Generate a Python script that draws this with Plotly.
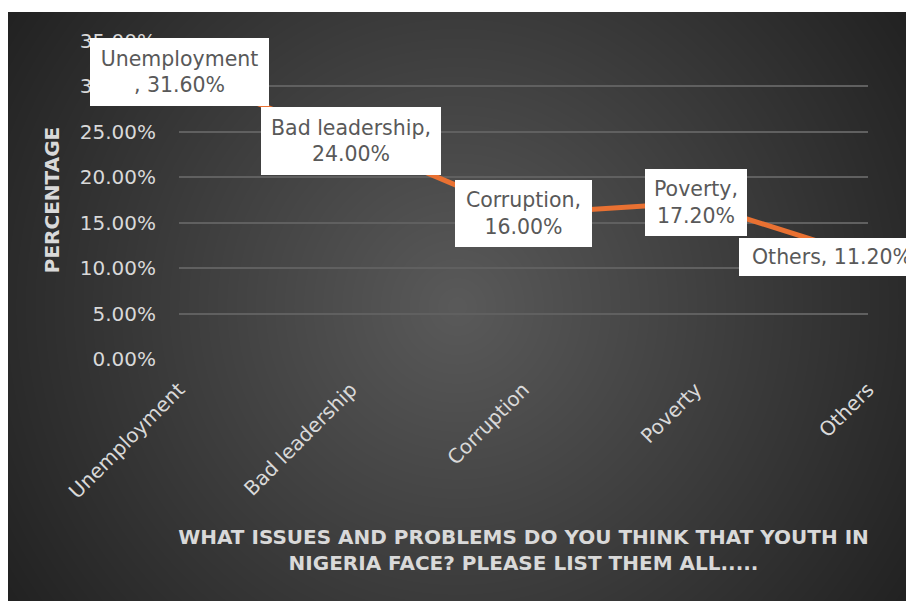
import base64
import struct
import zlib

import numpy as np
import plotly.graph_objects as go

# Survey responses: share of respondents naming each issue
categories = ["Unemployment", "Bad leadership", "Corruption", "Poverty", "Others"]
shares = [0.316, 0.24, 0.16, 0.172, 0.112]
y_ticks = [0, 0.05, 0.10, 0.15, 0.20, 0.25, 0.30, 0.35]

# Data-label text (the first one wraps before its comma)
label_texts = [
    "Unemployment<br>, {:.2%}".format(shares[0]),
    "Bad leadership,<br>{:.2%}".format(shares[1]),
    "Corruption,<br>{:.2%}".format(shares[2]),
    "Poverty,<br>{:.2%}".format(shares[3]),
    "Others, {:.2%}".format(shares[4]),
]

FIG_W, FIG_H = 906, 601
M_L, M_R, M_T, M_B = 179, 38, 41, 242
PLOT_W = FIG_W - M_L - M_R
PLOT_H = FIG_H - M_T - M_B

# Chart-area panel (dark radial gradient) placed inside a thin white frame
PANEL_X0, PANEL_Y0 = 8, 12
PW, PH = FIG_W - PANEL_X0, FIG_H - PANEL_Y0


def radial_png(w, h, inner=0x5a, outer=0x22):
    yy, xx = np.mgrid[0:h, 0:w].astype(float)
    cx, cy = w / 2.0, h / 2.0
    r = np.sqrt((xx - cx) ** 2 + (yy - cy) ** 2) / np.sqrt(cx ** 2 + cy ** 2)
    vals = np.clip(inner + (outer - inner) * r, 0, 255).astype(np.uint8)
    raw = b"".join(b"\x00" + vals[i].tobytes() for i in range(h))

    def chunk(tag, data):
        return (struct.pack(">I", len(data)) + tag + data
                + struct.pack(">I", zlib.crc32(tag + data) & 0xFFFFFFFF))

    png = (b"\x89PNG\r\n\x1a\n"
           + chunk(b"IHDR", struct.pack(">IIBBBBB", w, h, 8, 0, 0, 0, 0))
           + chunk(b"IDAT", zlib.compress(raw, 9))
           + chunk(b"IEND", b""))
    return "data:image/png;base64," + base64.b64encode(png).decode()


TEXT_GRAY = "#d9d9d9"
LABEL_GRAY = "#595959"
FONT = "DejaVu Sans"

fig = go.Figure()
fig.add_trace(go.Scatter(
    x=categories, y=shares, mode="lines",
    line=dict(color="#E97132", width=5),
    hoverinfo="skip", showlegend=False,
))

# Label box sizes (px) and horizontal nudges
box_w = [179, 180, 137, 102, 186]
box_h = [68, 68, 67, 67, 38]
x_shift = [0, 0, 0, 0, -36]

annotations = []
for cat, val, txt, bw, bh, xs in zip(categories, shares, label_texts, box_w, box_h, x_shift):
    annotations.append(dict(
        x=cat, y=val, xref="x", yref="y", text=txt, showarrow=False,
        width=bw, height=bh, borderpad=0, borderwidth=0,
        bgcolor="white", xshift=xs,
        font=dict(family=FONT, size=20.5, color=LABEL_GRAY),
        align="center", valign="middle",
    ))

fig.update_layout(
    width=FIG_W, height=FIG_H,
    margin=dict(l=M_L, r=M_R, t=M_T, b=M_B, pad=0),
    paper_bgcolor="white",
    plot_bgcolor="rgba(0,0,0,0)",
    font=dict(family=FONT, color=TEXT_GRAY),
    annotations=annotations,
    images=[dict(
        source=radial_png(PW, PH),
        xref="paper", yref="paper",
        x=(PANEL_X0 - M_L) / PLOT_W, y=(FIG_H - M_B - PANEL_Y0) / PLOT_H,
        sizex=PW / PLOT_W, sizey=PH / PLOT_H,
        xanchor="left", yanchor="top", sizing="stretch", layer="below",
    )],
    xaxis=dict(
        type="category", range=[0, len(categories) - 1],
        showgrid=False, zeroline=False, showline=False,
        tickangle=-45, tickfont=dict(size=20, color=TEXT_GRAY),
        ticklabelstandoff=14,
        title=dict(
            text="<b>WHAT ISSUES AND PROBLEMS DO YOU THINK THAT YOUTH IN<br>NIGERIA FACE? PLEASE LIST THEM ALL.....</b>",
            font=dict(size=20, color=TEXT_GRAY), standoff=27,
        ),
        automargin=False, fixedrange=True,
    ),
    yaxis=dict(
        range=[0, 0.35], tickvals=y_ticks, tickformat=".2%",
        showgrid=True, gridcolor="#606060", gridwidth=1.5,
        zeroline=False, showline=False,
        tickfont=dict(size=20, color=TEXT_GRAY),
        ticklabelstandoff=22,
        title=dict(text="<b>PERCENTAGE</b>", font=dict(size=20, color=TEXT_GRAY), standoff=14),
        automargin=False, fixedrange=True,
    ),
)

fig.write_html("out.html", config={"displayModeBar": False})
